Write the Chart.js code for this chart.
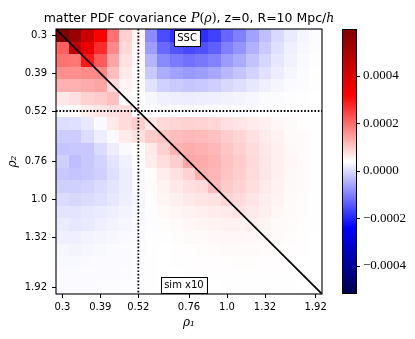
<!DOCTYPE html>
<html>
<head>
<meta charset="utf-8">
<script src="https://cdn.jsdelivr.net/npm/chart.js@4/dist/chart.umd.min.js"></script>
<style>
  html, body { margin: 0; padding: 0; background: #fff; }
  #wrap { width: 415px; height: 339px; position: relative; }
</style>
</head>
<body>
<div id="wrap"><canvas id="cov"></canvas></div>
<script>
// bins in rho (index space), ticks sit on bin centres
const tickIdx = [0.5, 3.5, 6.5, 10.5, 13.5, 16.5, 20.5];
const rho1Labels = ['0.3', '0.39', '0.52', '0.76', '1.0', '1.32', '1.92'];
const rho2Labels = ['0.3', '0.39', '0.52', '0.76', '1.0', '1.32', '1.92'];
const splitIdx = 6.5;              // rho = 0.52 (dotted lines)
const cbTicks = [-0.0004, -0.0002, 0, 0.0002, 0.0004];
const VMIN = -0.00052;
const VMAX = 0.000598;

// covariance x 1e6 ; row = rho2 bin (top -> bottom), col = rho1 bin (left -> right)
// upper triangle + diagonal = SSC, lower triangle = sim x10
const covE6 = [
  [639, 542, 430, 318, 193, 89, 50, -87, -157, -185, -201, -190, -170, -128, -100, -64, -31, -3, 17, 28, 36],
  [212, 461, 367, 273, 168, 81, 48, -67, -125, -149, -162, -153, -136, -101, -77, -47, -20, 4, 21, 30, 36],
  [194, 189, 294, 221, 139, 72, 46, -43, -89, -107, -117, -110, -97, -70, -52, -28, -7, 12, 25, 32, 37],
  [161, 161, 167, 169, 111, 62, 44, -20, -52, -65, -73, -67, -58, -39, -26, -9, 6, 19, 29, 34, 38],
  [125, 125, 131, 139, 79, 52, 42, 7, -11, -19, -23, -20, -15, -4, 3, 13, 21, 28, 33, 36, 38],
  [64, 73, 89, 95, 109, 43, 40, 29, 23, 20, 19, 20, 22, 25, 27, 30, 33, 36, 37, 38, 39],
  [34, 43, 59, 67, 73, 79, 39, 37, 35, 35, 35, 35, 35, 36, 36, 37, 38, 38, 39, 39, 39],
  [2, 4, 14, 32, 64, 79, 94, 65, 80, 86, 89, 87, 83, 74, 68, 61, 54, 48, 44, 41, 40],
  [-17, -17, 2, 19, 32, 61, 72, 95, 103, 112, 117, 114, 107, 94, 84, 73, 62, 53, 46, 43, 40],
  [-26, -21, -21, -1, 19, 32, 41, 64, 89, 123, 129, 124, 117, 101, 91, 77, 65, 55, 47, 43, 40],
  [-13, -31, -21, -9, 9, 23, 36, 60, 75, 94, 135, 131, 123, 106, 95, 80, 67, 56, 48, 43, 40],
  [-21, -26, -21, -13, 4, 19, 32, 41, 60, 72, 89, 126, 119, 103, 92, 78, 66, 55, 47, 43, 40],
  [-13, -13, -9, -1, 9, 19, 32, 43, 53, 64, 74, 79, 112, 97, 87, 75, 63, 54, 47, 43, 40],
  [-1, -4, -1, 4, 13, 20, 29, 37, 50, 57, 64, 69, 71, 85, 78, 68, 58, 51, 45, 42, 40],
  [9, 9, 13, 17, 22, 26, 31, 37, 44, 50, 53, 57, 61, 63, 71, 63, 55, 49, 44, 42, 40],
  [17, 13, 16, 22, 26, 29, 33, 37, 42, 45, 48, 50, 52, 53, 53, 57, 51, 46, 43, 41, 40],
  [22, 22, 26, 28, 30, 32, 35, 38, 40, 42, 44, 45, 47, 48, 48, 47, 47, 44, 42, 40, 39],
  [29, 27, 29, 31, 33, 34, 36, 38, 39, 40, 41, 42, 43, 44, 44, 44, 43, 42, 41, 40, 39],
  [31, 31, 32, 33, 34, 35, 37, 38, 39, 40, 40, 41, 41, 41, 42, 42, 41, 41, 40, 39, 39],
  [33, 33, 34, 35, 35, 36, 37, 38, 39, 39, 40, 40, 40, 40, 40, 40, 40, 40, 40, 39, 39],
  [35, 35, 35, 36, 36, 37, 37, 38, 39, 39, 39, 39, 39, 40, 40, 40, 40, 40, 40, 39, 39]
];
const nBins = covE6.length;

// text boxes, in bin coordinates
const notes = [
  { text: 'SSC', x: 10.35, y: 0.74 },
  { text: 'sim x10', x: 10.1, y: 20.26 }
];

// matplotlib "seismic"
function seismic(t) {
  t = Math.min(1, Math.max(0, t));
  let r, g, b, s;
  if (t < 0.25) { s = t / 0.25; r = 0; g = 0; b = 0.3 + 0.7 * s; }
  else if (t < 0.5) { s = (t - 0.25) / 0.25; r = s; g = s; b = 1; }
  else if (t < 0.75) { s = (t - 0.5) / 0.25; r = 1; g = 1 - s; b = 1 - s; }
  else { s = (t - 0.75) / 0.25; r = 1 - 0.5 * s; g = 0; b = 0; }
  return 'rgb(' + Math.round(r * 255) + ',' + Math.round(g * 255) + ',' + Math.round(b * 255) + ')';
}

const heatmap = {
  id: 'heatmap',
  beforeDatasetsDraw(chart) {
    const { ctx, scales: { x, y } } = chart;
    ctx.save();
    covE6.forEach((row, r) => {
      const y0 = Math.round(y.getPixelForValue(r));
      const y1 = Math.round(y.getPixelForValue(r + 1));
      row.forEach((v, c) => {
        const x0 = Math.round(x.getPixelForValue(c));
        const x1 = Math.round(x.getPixelForValue(c + 1));
        ctx.fillStyle = seismic((v * 1e-6 - VMIN) / (VMAX - VMIN));
        ctx.fillRect(x0, y0, x1 - x0, y1 - y0);
      });
    });
    ctx.restore();
  },
  afterDatasetsDraw(chart) {
    const { ctx, chartArea: a, scales: { x, y } } = chart;
    ctx.save();
    // text boxes
    ctx.font = '10px "DejaVu Sans"';
    ctx.textAlign = 'center';
    ctx.textBaseline = 'middle';
    notes.forEach(n => {
      const px = x.getPixelForValue(n.x);
      const py = y.getPixelForValue(n.y);
      const w = ctx.measureText(n.text).width + 6;
      const h = 16;
      ctx.fillStyle = '#fff';
      ctx.fillRect(px - w / 2, py - h / 2, w, h);
      ctx.strokeStyle = '#000';
      ctx.lineWidth = 1;
      ctx.strokeRect(Math.round(px - w / 2) + 0.5, Math.round(py - h / 2) + 0.5, Math.round(w), h);
      ctx.fillStyle = '#000';
      ctx.fillText(n.text, px, py + 0.5);
    });
    // frame
    ctx.strokeStyle = '#000';
    ctx.lineWidth = 1.1;
    ctx.strokeRect(a.left, a.top, a.right - a.left, a.bottom - a.top);
    ctx.restore();
  },
  afterDraw(chart) {
    const { ctx, chartArea: a, scales: { cb } } = chart;
    ctx.save();
    // colour bar
    const bx = a.right + 20, bw = 14;
    for (let py = Math.floor(cb.top); py < cb.bottom; py++) {
      const v = cb.getValueForPixel(py + 0.5);
      ctx.fillStyle = seismic((v - VMIN) / (VMAX - VMIN));
      ctx.fillRect(bx, py, bw, 1);
    }
    ctx.strokeStyle = '#000';
    ctx.lineWidth = 1;
    ctx.strokeRect(bx + 0.5, cb.top + 0.5, bw, cb.bottom - cb.top - 1);
    cbTicks.forEach(t => {
      const py = Math.round(cb.getPixelForValue(t)) + 0.5;
      ctx.beginPath();
      ctx.moveTo(bx + bw, py);
      ctx.lineTo(bx + bw + 4, py);
      ctx.stroke();
    });
    // title
    const parts = [
      ['matter PDF covariance ', '12.5px "DejaVu Sans"'],
      ['P', 'italic 13px "DejaVu Serif"'],
      ['(', '12.5px "DejaVu Serif"'],
      ['\u03c1', 'italic 12.5px "DejaVu Serif"'],
      [')', '12.5px "DejaVu Serif"'],
      [', z=0, R=10 Mpc/', '12.5px "DejaVu Sans"'],
      ['h', 'italic 12.5px "DejaVu Serif"']
    ];
    let total = 0;
    parts.forEach(p => { ctx.font = p[1]; total += ctx.measureText(p[0]).width; });
    let tx = (a.left + a.right) / 2 - total / 2;
    ctx.fillStyle = '#000';
    ctx.textAlign = 'left';
    ctx.textBaseline = 'alphabetic';
    parts.forEach(p => {
      ctx.font = p[1];
      ctx.fillText(p[0], tx, 22);
      tx += ctx.measureText(p[0]).width;
    });
    ctx.restore();
  }
};

Chart.defaults.color = '#000';

new Chart(document.getElementById('cov'), {
  type: 'scatter',
  data: {
    datasets: [
      {
        data: [{ x: 0, y: 0 }, { x: nBins, y: nBins }],
        showLine: true, borderColor: '#000', borderWidth: 1.7, pointRadius: 0
      },
      {
        data: [{ x: splitIdx, y: 0 }, { x: splitIdx, y: nBins }],
        showLine: true, borderColor: '#000', borderWidth: 1.8, borderDash: [1.6, 1.8], pointRadius: 0
      },
      {
        data: [{ x: 0, y: splitIdx }, { x: nBins, y: splitIdx }],
        showLine: true, borderColor: '#000', borderWidth: 1.8, borderDash: [1.6, 1.8], pointRadius: 0
      }
    ]
  },
  options: {
    responsive: true,
    maintainAspectRatio: false,
    animation: false,
    events: [],
    layout: { padding: { top: 29, left: 0, right: 0, bottom: 0 } },
    plugins: { legend: { display: false }, tooltip: { enabled: false } },
    scales: {
      x: {
        type: 'linear', position: 'bottom', min: 0, max: nBins,
        afterBuildTicks: s => { s.ticks = tickIdx.map(v => ({ value: v })); },
        afterFit: s => { s.height = 45; },
        ticks: {
          autoSkip: false, maxRotation: 0, padding: 3,
          font: { family: 'DejaVu Sans', size: 10 },
          callback: (v, i) => rho1Labels[i]
        },
        grid: { drawOnChartArea: false, tickLength: 4, color: '#000' },
        border: { display: false },
        title: {
          display: true, text: '\u03c1\u2081',
          font: { family: 'DejaVu Serif', size: 12, style: 'italic' },
          padding: { top: 0, bottom: 9 }
        }
      },
      y: {
        type: 'linear', position: 'left', reverse: true, min: 0, max: nBins,
        afterBuildTicks: s => { s.ticks = tickIdx.map(v => ({ value: v })); },
        afterFit: s => { s.width = 56; },
        ticks: {
          autoSkip: false, padding: 5,
          font: { family: 'DejaVu Sans', size: 10 },
          callback: (v, i) => rho2Labels[i]
        },
        grid: { drawOnChartArea: false, tickLength: 4, color: '#000' },
        border: { display: false },
        title: {
          display: true, text: '\u03c1\u2082',
          font: { family: 'DejaVu Serif', size: 12, style: 'italic' },
          padding: { top: 6, bottom: 0 }
        }
      },
      cb: {
        type: 'linear', position: 'right', min: VMIN, max: VMAX,
        afterBuildTicks: s => { s.ticks = cbTicks.map(v => ({ value: v })); },
        afterFit: s => { s.width = 93; },
        ticks: {
          padding: 3,
          font: { family: 'Liberation Serif', size: 13 },
          callback: v => (v < 0 ? '\u2212' : '') + Math.abs(v).toFixed(4)
        },
        grid: { display: false, drawTicks: true, tickLength: 38 },
        border: { display: false }
      }
    }
  },
  plugins: [heatmap]
});
</script>
</body>
</html>
